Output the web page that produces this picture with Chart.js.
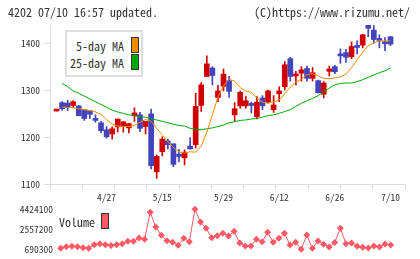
<!DOCTYPE html>
<html>
<head>
<meta charset="utf-8">
<script src="https://cdn.jsdelivr.net/npm/chart.js@4/dist/chart.umd.min.js"></script>
<style>
  body { margin: 0; background: #fff; }
  #wrap { position: relative; width: 420px; height: 259px; overflow: hidden; font-family: "Noto Sans Mono CJK JP", "DejaVu Sans Mono", monospace; color: #333; }
  .txt { position: absolute; font-size: 12px; line-height: 14px; white-space: nowrap; }
  .sw { position: absolute; box-sizing: border-box; border: 1px solid #333; }
  canvas { position: absolute; left: 0; }
</style>
</head>
<body>
<div id="wrap">
  <canvas id="main" width="420" height="205" style="top:0"></canvas>
  <canvas id="vol" width="420" height="59" style="top:200px"></canvas>

  <div class="txt" style="left:8px; top:5px">4202 07/10 16:57 updated.</div>
  <div class="txt" style="right:10px; top:5px">(C)https://www.rizumu.net/</div>

  <div style="position:absolute; left:65px; top:30px; width:78px; height:47px; box-sizing:border-box; border:2px solid #dedede; background:#fff"></div>
  <div class="txt" style="right:296px; top:39px">5-day MA</div>
  <div class="txt" style="right:296px; top:56px">25-day MA</div>
  <div class="sw" style="left:131px; top:37px; width:8px; height:16px; background:#f08c00"></div>
  <div class="sw" style="left:131px; top:54px; width:8px; height:16px; background:#00a800"></div>

  <div class="txt" style="left:59px; top:215px">Volume</div>
  <div class="sw" style="left:101px; top:213px; width:8px; height:16px; background:#fb5a64"></div>
</div>
<script>
// daily candles, 61 sessions
const opens  = [1256,1274,1273,1268,1267,1259,1257,1239,1231,1216,1207,1222,1223,1220,1246,1248,1223,1250,1126,1169,
                1192,1186,1164,1156,1181,1184,1268,1330,1348,1285,1309,1321,1248,1267,1267,1271,1244,1284,1275,1259,
                1293,1308,1368,1331,1337,1347,1326,1321,1292,1341,1351,1376,1381,1372,1394,1397,1440,1429,1409,1402,1415];
const highs  = [1256,1276,1279,1278,1268,1259,1257,1248,1234,1223,1222,1239,1233,1230,1263,1253,1234,1260,1162,1201,
                1196,1186,1174,1173,1199,1294,1317,1374,1351,1311,1346,1330,1274,1299,1287,1275,1287,1289,1301,1289,
                1308,1362,1371,1341,1351,1352,1349,1322,1319,1352,1354,1389,1388,1404,1406,1420,1440,1439,1419,1413,1415];
const lows   = [1256,1258,1257,1264,1246,1236,1240,1232,1209,1198,1196,1211,1211,1209,1234,1212,1207,1132,1112,1160,
                1175,1137,1147,1141,1175,1177,1255,1330,1312,1276,1299,1285,1235,1262,1262,1252,1239,1259,1273,1253,
                1276,1301,1320,1312,1320,1320,1320,1295,1284,1331,1336,1358,1360,1368,1378,1391,1415,1401,1391,1385,1396];
const closes = [1256,1261,1264,1276,1246,1240,1249,1236,1214,1201,1218,1239,1233,1229,1252,1219,1234,1139,1159,1196,
                1184,1142,1159,1168,1175,1266,1312,1357,1332,1299,1335,1298,1261,1296,1278,1268,1275,1267,1299,1269,
                1299,1355,1330,1333,1344,1326,1338,1295,1316,1346,1340,1374,1371,1394,1392,1419,1433,1409,1407,1400,1399];

// moving averages as drawn
const ma5  = [null,1264,1264,1263,1261,1259,1257,1254,1249,1237,1228,1224,1223,1223,1225,1232,1238,1234,1219,1205,
              1190,1178,1169,1166,1169,1168,1181,1211,1248,1286,1310,1324,1320,1306,1299,1296,1284,1275,1273,1276,
              1279,1293,1307,1318,1324,1334,1336,1331,1326,1325,1327,1329,1335,1349,1366,1382,1396,1402,1406,1406,1406];
const ma25 = [null,1315,1308,1299,1294,1288,1282,1276,1270,1264,1258,1254,1251,1248,1246,1244,1243,1239,1237,1234,
              1231,1228,1225,1224,1219,1217,1216,1218,1220,1223,1226,1231,1233,1236,1237,1239,1240,1243,1246,1248,
              1251,1255,1259,1266,1273,1278,1283,1289,1297,1305,1312,1315,1316,1316,1319,1323,1328,1333,1338,1342,1348];

const volume = [null,780000,933000,970000,933000,840000,784000,1120000,1213000,1120000,1045000,1120000,1213000,1437000,1446000,
                1745000,1624000,4144000,2772000,1997000,1484000,1353000,1064000,1717000,1400000,4424100,3239000,2651000,1773000,
                1950000,2184000,1932000,2370000,1278000,998000,998000,1624000,1400000,2277000,1344000,1717000,2184000,1092000,
                1344000,690300,2025000,784000,1465000,1166000,905000,1325000,2651000,1213000,1278000,970000,886000,812000,
                998000,905000,1185000,1092000];

const dateIdx  = [9, 19, 30, 40, 50, 60];
const dateText = ['4/27', '5/15', '5/29', '6/12', '6/26', '7/10'];
const priceTicks = [1100, 1200, 1300, 1400];
const volTicks = [690300, 2557200, 4424100];

const RED = '#d10000', BLUE = '#4343bd', VOLC = '#fb5a64';
const FONT = '"Noto Sans Mono CJK JP", "DejaVu Sans Mono", monospace';
const AXIS = '#dddddd';

const xMin = -1.168, xMax = 62.6;   // index range of the price plot
const GRID_N = 11;                  // vertical tick marks on the bottom axis

const col = closes.map((c, i) => c >= opens[i] ? RED : BLUE);
const pts = arr => arr.map((v, i) => ({x: i, y: v}));
const plain = v => String(v);

new Chart(document.getElementById('main'), {
  type: 'bar',
  data: {
    datasets: [
      {type: 'line', data: pts(ma5), borderColor: '#f08c00', borderWidth: 1, pointRadius: 0, order: 0},
      {type: 'line', data: pts(ma25), borderColor: '#00a800', borderWidth: 1, pointRadius: 0, order: 0},
      {data: opens.map((o, i) => ({x: i, y: [o, closes[i]]})), backgroundColor: col,
       barThickness: 5, minBarLength: 2, grouped: false, order: 1},
      {data: lows.map((l, i) => ({x: i, y: [l, highs[i]]})), backgroundColor: col,
       barThickness: 1, grouped: false, order: 2}
    ]
  },
  options: {
    responsive: false,
    animation: false,
    events: [],
    layout: {padding: {top: 25, right: 15, bottom: 0, left: 0}},
    plugins: {legend: {display: false}, tooltip: {enabled: false}},
    scales: {
      x: {
        type: 'linear', min: xMin, max: xMax, offset: false,
        afterFit: s => { s.height = 21; },
        afterBuildTicks: s => {
          const t = [];
          for (let k = 0; k <= GRID_N; k++) t.push({value: xMin + k * (xMax - xMin) / GRID_N});
          dateIdx.forEach(v => t.push({value: v}));
          s.ticks = t;
        },
        grid: {drawOnChartArea: false, offset: false, color: AXIS, tickLength: 5,
               tickColor: c => c.index <= GRID_N ? AXIS : 'rgba(0,0,0,0)'},
        border: {color: AXIS},
        ticks: {autoSkip: false, maxRotation: 0, minRotation: 0, padding: 3, color: '#333',
                font: {family: FONT, size: 9.5},
                callback: (v, i) => i <= GRID_N ? '' : dateText[i - GRID_N - 1]}
      },
      y: {
        min: 1100, max: 1440,
        afterFit: s => { s.width = 50; },
        afterBuildTicks: s => { s.ticks = priceTicks.map(v => ({value: v})); },
        grid: {drawOnChartArea: false, color: AXIS, tickLength: 6},
        border: {color: AXIS},
        ticks: {padding: 4, color: '#333', font: {family: FONT, size: 9.5}, callback: plain}
      }
    }
  }
});

new Chart(document.getElementById('vol'), {
  type: 'line',
  data: {
    datasets: [{
      data: pts(volume), borderColor: VOLC, backgroundColor: VOLC, borderWidth: 1,
      pointStyle: 'rectRot', pointRadius: 3.5, pointBorderWidth: 0, clip: false
    }]
  },
  options: {
    responsive: false,
    animation: false,
    events: [],
    layout: {padding: {top: 9.3, right: 15, bottom: 9.7, left: 0}},
    plugins: {legend: {display: false}, tooltip: {enabled: false}},
    scales: {
      x: {type: 'linear', display: false, min: 0.16, max: 62.56},
      y: {
        min: 690300, max: 4424100,
        afterFit: s => { s.width = 56; },
        afterBuildTicks: s => { s.ticks = volTicks.map(v => ({value: v})); },
        grid: {display: false, drawTicks: false},
        border: {display: false},
        ticks: {padding: 3, color: '#333', font: {family: FONT, size: 9.5}, callback: plain}
      }
    }
  }
});
</script>
</body>
</html>
